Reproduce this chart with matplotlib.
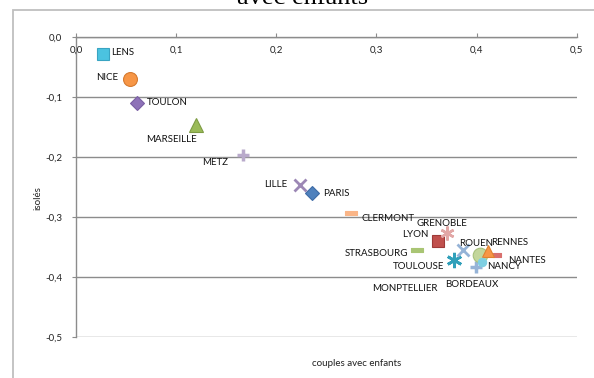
import matplotlib
matplotlib.use("Agg")
import matplotlib.pyplot as plt
from matplotlib.lines import Line2D
from matplotlib.patches import Rectangle

# ---- data ----
cities = ["PARIS", "LYON", "MARSEILLE", "LILLE", "TOULOUSE", "NICE", "BORDEAUX",
          "NANTES", "STRASBOURG", "MONPTELLIER", "RENNES", "GRENOBLE", "TOULON",
          "CLERMONT", "ROUEN", "METZ", "NANCY", "LENS"]
x_vals = [0.2354, 0.3613, 0.1199, 0.2237, 0.3776, 0.0540, 0.3996,
          0.4203, 0.3403, 0.4036, 0.4119, 0.3703, 0.0606,
          0.2747, 0.3869, 0.1665, 0.4056, 0.0270]
y_vals = [-0.260, -0.340, -0.147, -0.247, -0.372, -0.0705, -0.3843,
          -0.3638, -0.3555, -0.3643, -0.358, -0.3267, -0.110,
          -0.294, -0.3555, -0.197, -0.375, -0.029]
x_ticks = [0.0, 0.1, 0.2, 0.3, 0.4, 0.5]
y_ticks = [0.0, -0.1, -0.2, -0.3, -0.4, -0.5]
title = "avec enfants"
x_label = "couples avec enfants"
y_label = "isolés"

# ---- styles ----
dash = [(-1, -0.38), (1, -0.38), (1, 0.38), (-1, 0.38), (-1, -0.38)]
star = (6, 2, 0)
styles = {
    "PARIS":       dict(marker="D", ms=7.5, mfc="#4F81BD", mec="#3E6CA6"),
    "LYON":        dict(marker="s", ms=9, mfc="#C0504D", mec="#9E3A38"),
    "MARSEILLE":   dict(marker="^", ms=9.5, mfc="#9BBB59", mec="#7E9C44"),
    "LILLE":       dict(marker="x", ms=8, mfc="#9C87B5", mec="#9C87B5", mew=2),
    "TOULOUSE":    dict(marker=star, ms=11, mfc="#31A0BA", mec="#31A0BA", mew=2),
    "NICE":        dict(marker="o", ms=10, mfc="#F79646", mec="#D57A30"),
    "BORDEAUX":    dict(marker="+", ms=9, mfc="#95B3D7", mec="#95B3D7", mew=2.5),
    "NANTES":      dict(marker=dash, ms=6, mfc="#D9706E", mec="#D9706E"),
    "STRASBOURG":  dict(marker=dash, ms=9, mfc="#A9C574", mec="#A9C574"),
    "MONPTELLIER": dict(marker="o", ms=10.5, mfc="#C3D69B", mec="#A7C07A"),
    "RENNES":      dict(marker="^", ms=8.5, mfc="#F79646", mec="#E0822F"),
    "GRENOBLE":    dict(marker=star, ms=10, mfc="#E2A7A6", mec="#E2A7A6", mew=1.8),
    "TOULON":      dict(marker="D", ms=7.5, mfc="#8E72B8", mec="#7A5FA3"),
    "CLERMONT":    dict(marker=dash, ms=9, mfc="#FAB587", mec="#FAB587"),
    "ROUEN":       dict(marker="x", ms=9, mfc="#95B3D7", mec="#95B3D7", mew=2),
    "METZ":        dict(marker="+", ms=9, mfc="#B9AACB", mec="#B9AACB", mew=2.5),
    "NANCY":       dict(marker="o", ms=6, mfc="#7ECFE2", mec="#7ECFE2"),
    "LENS":        dict(marker="s", ms=8.5, mfc="#4BC3E0", mec="#39A4C2"),
}
# label offsets in pixels (dx, dy, ha)
label_off = {
    "PARIS": (11.6, -0.6, "left"), "LYON": (-22.7, 6.4, "center"),
    "MARSEILLE": (-24.3, -14.3, "center"), "LILLE": (-13, 0, "right"),
    "TOULOUSE": (-35.7, -6.7, "center"), "NICE": (-12, 2, "right"),
    "BORDEAUX": (-4.3, -17, "center"), "NANTES": (30, -5.7, "center"),
    "STRASBOURG": (-40, -3.3, "center"), "MONPTELLIER": (-75.7, -33, "center"),
    "RENNES": (21.7, 9, "center"), "GRENOBLE": (-5, 9.4, "center"),
    "TOULON": (10, 0, "left"), "CLERMONT": (10, -5, "left"),
    "ROUEN": (12.4, 6, "center"), "METZ": (-27.7, -7.7, "center"),
    "NANCY": (22.3, -5, "center"), "LENS": (7.7, 2, "left"),
}

plt.rcParams["font.family"] = ["Lato", "DejaVu Sans"]
W, H = 594, 378
fig = plt.figure(figsize=(W / 100, H / 100), dpi=100)

# chart frame
fig.patches.append(Rectangle((12.7 / W, -0.1), 1.2, 1 - 10 / H + 0.1,
                             transform=fig.transFigure, fill=False,
                             edgecolor="#BFBFBF", lw=1.3))
fig.text(303 / W, 1 - 4 / H, title, ha="center", va="baseline",
         fontsize=19, family="Liberation Serif", color="black")

left, right, top, bot = 76, 576.7, 36.7, 336.7
ax = fig.add_axes([left / W, 1 - bot / H, (right - left) / W, (bot - top) / H])
ax.set_xlim(0, 0.5)
ax.set_ylim(-0.5, 0)
ax.patch.set_alpha(0)
for s in ("right", "bottom"):
    ax.spines[s].set_visible(False)
for s in ("left", "top"):
    ax.spines[s].set_color("#8C8C8C")
    ax.spines[s].set_linewidth(1)
    ax.spines[s].set_zorder(1)

ax.set_yticks(y_ticks)
ax.set_yticklabels([f"{v:.1f}".replace(".", ",") for v in y_ticks])
ax.tick_params(axis="y", length=3, color="#8C8C8C", labelsize=7, pad=7,
               labelcolor="#222222")
ax.yaxis.grid(True, color="#8C8C8C", lw=1)
ax.set_axisbelow(True)

ax.xaxis.set_ticks_position("top")
ax.set_xticks(x_ticks)
ax.tick_params(axis="x", length=3, direction="out", color="#8C8C8C",
               labeltop=False, labelbottom=False)
for v in x_ticks:
    ax.annotate(f"{v:.1f}".replace(".", ","), xy=(v, 0), xycoords="data",
                xytext=(0, -13.5), textcoords="offset pixels",
                ha="center", va="center", fontsize=7, color="#222222")

for c, xv, yv in zip(cities, x_vals, y_vals):
    st = styles[c]
    ax.plot([xv], [yv], linestyle="none", marker=st["marker"], markersize=st["ms"],
            markerfacecolor=st["mfc"], markeredgecolor=st["mec"],
            markeredgewidth=st.get("mew", 0.8), zorder=3, clip_on=False)
    dx, dy, ha = label_off[c]
    ax.annotate(c, xy=(xv, yv), xytext=(dx, dy), textcoords="offset pixels",
                ha=ha, va="center", fontsize=7, color="#111111", zorder=4)

fig.text(38 / W, 1 - 198 / H, y_label, rotation=90, ha="center", va="center",
         fontsize=7, color="#222222")
fig.text(357 / W, 1 - 363 / H, x_label, ha="center", va="center",
         fontsize=7, color="#222222")

fig.savefig("out.png", dpi=100)
